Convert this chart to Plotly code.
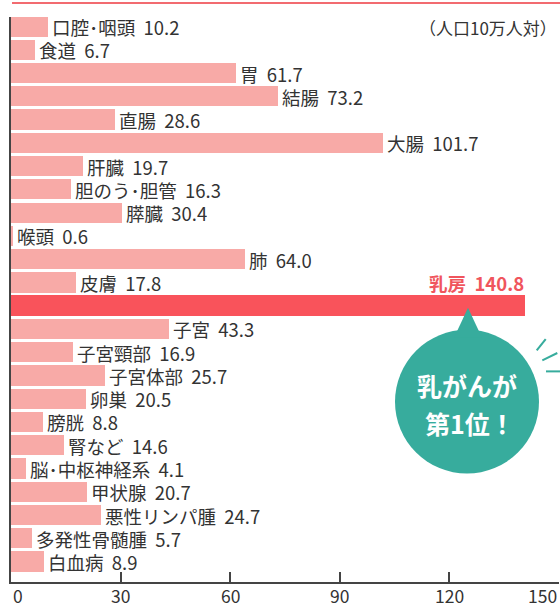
import plotly.graph_objects as go

sites = ["口腔･咽頭", "食道", "胃", "結腸", "直腸", "大腸", "肝臓", "胆のう･胆管", "膵臓", "喉頭",
         "肺", "皮膚", "乳房", "子宮", "子宮頸部", "子宮体部", "卵巣", "膀胱", "腎など",
         "脳･中枢神経系", "甲状腺", "悪性リンパ腫", "多発性骨髄腫", "白血病"]
rates = [10.2, 6.7, 61.7, 73.2, 28.6, 101.7, 19.7, 16.3, 30.4, 0.6,
         64.0, 17.8, 140.8, 43.3, 16.9, 25.7, 20.5, 8.8, 14.6,
         4.1, 20.7, 24.7, 5.7, 8.9]
highlight = "乳房"
x_ticks = [0, 30, 60, 90, 120, 150]
x_tick_labels = ["0", "30", "60", "90", "120", "150"]
unit_note = "（人口10万人対）"
bubble_lines = ["乳がんが", "第1位！"]

FONT = "Noto Sans CJK JP"
PINK = "#f8aaa7"
RED = "#f9535b"
RED_TXT = "#f0555d"
TEAL = "#37ac9d"
TXT = "#333333"

W, H = 560, 605
L, R, T, B = 11, 1, 17, 22.5
pw, ph = W - L - R, H - T - B


def px(x):
    return (x - L) / pw


def py(y):
    return (H - B - y) / ph


colors = [RED if s == highlight else PINK for s in sites]
widths = [0.93 if s == highlight else 0.87 for s in sites]

fig = go.Figure()
fig.add_trace(go.Bar(x=rates, y=sites, orientation="h", marker=dict(color=colors, line=dict(width=0)),
                     width=widths, hoverinfo="skip"))

for s, v in zip(sites, rates):
    if s == highlight:
        fig.add_annotation(x=v, y=s, text=f"{s}  {v:.1f}", showarrow=False, height=21,
                           xanchor="right", yanchor="middle", yshift=23, xshift=1,
                           font=dict(family=FONT, size=18.5, color=RED_TXT, weight="bold"))
    else:
        fig.add_annotation(x=v, y=s, text=f"{s}  {v:.1f}", showarrow=False, height=21,
                           xanchor="left", yanchor="middle", xshift=2, yshift=0,
                           font=dict(family=FONT, size=18.5, color=TXT))

fig.add_annotation(x=px(559), xref="paper", y=py(27), yref="paper", text=unit_note, showarrow=False,
                   xanchor="right", yanchor="middle", height=20, font=dict(family=FONT, size=17, color=TXT))

for i, (tv, tl) in enumerate(zip(x_ticks, x_tick_labels)):
    anchor = "left" if i == 0 else ("right" if i == len(x_ticks) - 1 else "center")
    fig.add_annotation(x=tv, xref="x", y=py(595.5), yref="paper", text=tl, showarrow=False, height=16,
                       xanchor=anchor, yanchor="middle", font=dict(family=FONT, size=17.5, color=TXT))

shapes = []
shapes.append(dict(type="line", xref="paper", yref="paper", x0=px(12), x1=px(560), y0=py(3), y1=py(3),
                   line=dict(color="#f26b70", width=2)))
cx, cy, r = 467, 402, 72
shapes.append(dict(type="circle", xref="paper", yref="paper", x0=px(cx - r), x1=px(cx + r),
                   y0=py(cy + r), y1=py(cy - r), fillcolor=TEAL, line=dict(width=0), layer="above"))
tail = f"M {px(468)} {py(308)} L {px(454)} {py(338)} L {px(482)} {py(338)} Z"
shapes.append(dict(type="path", xref="paper", yref="paper", path=tail, fillcolor=TEAL,
                   line=dict(width=0), layer="above"))
for (x0, y0, x1, y1) in [(536.7, 350.7, 545.7, 339.3), (542.3, 360.7, 557.3, 353.3), (546, 371.7, 560, 371.7)]:
    shapes.append(dict(type="line", xref="paper", yref="paper", x0=px(x0), y0=py(y0), x1=px(x1), y1=py(y1),
                       line=dict(color=TEAL, width=2)))
fig.update_layout(shapes=shapes)

for k, (t, yy) in enumerate(zip(bubble_lines, [385, 423])):
    fig.add_annotation(x=px(cx + (3 if k == 1 else 0)), xref="paper", y=py(yy), yref="paper", text=t,
                       showarrow=False, xanchor="center", yanchor="middle",
                       font=dict(family=FONT, size=25, color="white", weight="bold"))

fig.update_layout(
    width=W, height=H, margin=dict(l=L, r=R, t=T, b=B, pad=0),
    paper_bgcolor="white", plot_bgcolor="white", showlegend=False, bargap=0,
    xaxis=dict(range=[0, 150], tickvals=x_ticks, showticklabels=False, ticks="inside", ticklen=10,
               tickwidth=1.5, tickcolor="#444", showline=True, linecolor="#444", linewidth=2,
               showgrid=False, zeroline=False, fixedrange=True),
    yaxis=dict(type="category", categoryorder="array", categoryarray=sites, range=[23.88, -0.41],
               showticklabels=False, ticks="", showline=True, linecolor="#444", linewidth=2,
               showgrid=False, zeroline=False, fixedrange=True),
)

fig.write_html("out.html", config={"displayModeBar": False},
               post_script="document.body.style.margin='0';document.body.style.overflow='hidden';")
